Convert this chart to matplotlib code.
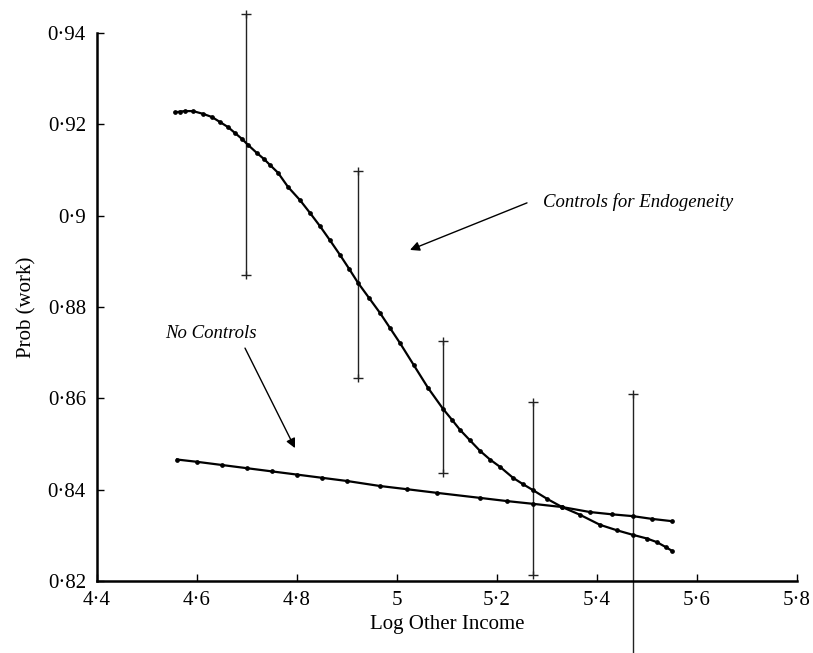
import matplotlib
matplotlib.use("Agg")
import matplotlib.pyplot as plt

# ---- data ----
endog_x = [4.556, 4.566, 4.576, 4.592, 4.612, 4.630, 4.646, 4.662, 4.676, 4.690,
           4.702, 4.720, 4.734, 4.746, 4.762, 4.782, 4.806, 4.826, 4.846, 4.866,
           4.886, 4.904, 4.922, 4.944, 4.966, 4.986, 5.006, 5.034, 5.062, 5.092,
           5.110, 5.126, 5.146, 5.166, 5.186, 5.206, 5.232, 5.252, 5.272, 5.300,
           5.330, 5.366, 5.406, 5.440, 5.472, 5.500, 5.520, 5.538, 5.550]
endog_y = [0.9226, 0.9228, 0.9229, 0.9229, 0.9223, 0.9216, 0.9205, 0.9194, 0.9181, 0.9168,
           0.9155, 0.9137, 0.9124, 0.9111, 0.9094, 0.9063, 0.9034, 0.9006, 0.8977, 0.8946,
           0.8914, 0.8884, 0.8853, 0.8820, 0.8787, 0.8754, 0.8721, 0.8672, 0.8623, 0.8577,
           0.8553, 0.8531, 0.8508, 0.8485, 0.8466, 0.8450, 0.8426, 0.8412, 0.8399, 0.8380,
           0.8362, 0.8345, 0.8323, 0.8311, 0.8301, 0.8293, 0.8285, 0.8274, 0.8266]

noctl_x = [4.560, 4.600, 4.650, 4.700, 4.750, 4.800, 4.850, 4.900, 4.966, 5.020, 5.080,
           5.166, 5.220, 5.272, 5.330, 5.386, 5.430, 5.472, 5.510, 5.550]
noctl_y = [0.8466, 0.8461, 0.8454, 0.8447, 0.8440, 0.8433, 0.8426, 0.8419, 0.8408, 0.8401,
           0.8393, 0.8382, 0.8375, 0.8369, 0.8362, 0.8351, 0.8346, 0.8342, 0.8336, 0.8331]

bar_x = [4.698, 4.922, 5.092, 5.272, 5.472]
bar_low = [0.8870, 0.8645, 0.8437, 0.8213, 0.7990]
bar_high = [0.9442, 0.9098, 0.8726, 0.8592, 0.8610]

x_ticks = [4.4, 4.6, 4.8, 5.0, 5.2, 5.4, 5.6, 5.8]
y_ticks = [0.82, 0.84, 0.86, 0.88, 0.90, 0.92, 0.94]

def fmt(v):
    s = ("%.2f" % v).rstrip("0").rstrip(".")
    return s.replace(".", "\u00b7")

x_labels = [fmt(v) for v in x_ticks]
y_labels = [fmt(v) for v in y_ticks]

plt.rcParams['font.family'] = ['Liberation Serif', 'DejaVu Serif']

fig = plt.figure(figsize=(8.13, 6.53), dpi=100)
ax = fig.add_axes([97/813, 1 - 581/653, 700/813, 548/653])

# curves
ax.plot(endog_x, endog_y, color='black', lw=1.6, marker='o', ms=2.4, zorder=3)
ax.plot(noctl_x, noctl_y, color='black', lw=1.6, marker='o', ms=2.4, zorder=3)

# error bars: vertical line, caps, and a small overshoot past each cap
ax.vlines(bar_x, bar_low, bar_high, colors='#222222', lw=1.0, zorder=2, clip_on=False)
for lo_hi in (bar_low, bar_high):
    ax.plot(bar_x, lo_hi, ls='none', marker='_', ms=7.5, mew=1.0,
            color='#222222', clip_on=False, zorder=2)
    ax.plot(bar_x, lo_hi, ls='none', marker='|', ms=6, mew=1.0,
            color='#222222', clip_on=False, zorder=2)

# annotations
ax.text(5.292, 0.9030, "Controls for Endogeneity", fontsize=13.5, style='italic',
        va='center', ha='left')
ax.annotate("", xy=(5.026, 0.8925), xytext=(5.260, 0.9028),
            arrowprops=dict(arrowstyle='-|>', color='black', lw=1.0,
                            mutation_scale=14, shrinkA=0, shrinkB=0))
ax.text(4.536, 0.8743, "No Controls", fontsize=13.5, style='italic',
        va='center', ha='left')
ax.annotate("", xy=(4.796, 0.8491), xytext=(4.696, 0.8710),
            arrowprops=dict(arrowstyle='-|>', color='black', lw=1.0,
                            mutation_scale=14, shrinkA=0, shrinkB=0))

ax.set_xlim(4.4, 5.8)
ax.set_ylim(0.82, 0.94)
ax.set_xticks(x_ticks)
ax.set_xticklabels(x_labels)
ax.set_yticks(y_ticks)
ax.set_yticklabels(y_labels)
ax.tick_params(direction='in', length=5, width=1, labelsize=15, pad=7)
ax.tick_params(axis='y', pad=8)

for s in ['top', 'right']:
    ax.spines[s].set_visible(False)
for s in ['left', 'bottom']:
    ax.spines[s].set_linewidth(1.8)

ax.set_xlabel("Log Other Income", fontsize=15, labelpad=4)
ax.set_ylabel("Prob (work)", fontsize=15, labelpad=8)

fig.savefig("out.png", dpi=100)
